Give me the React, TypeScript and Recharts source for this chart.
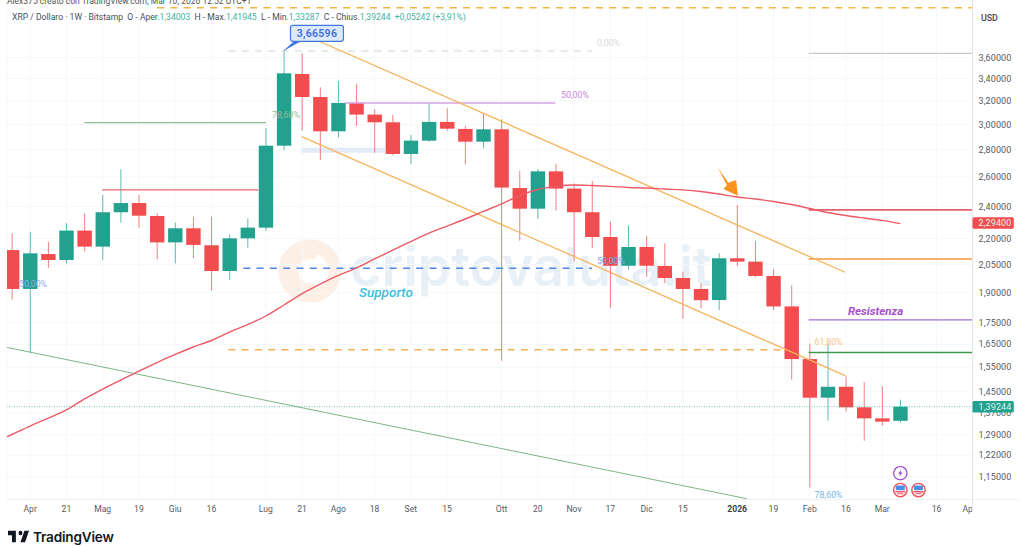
import React from 'react';
import { ComposedChart, Bar, Line, XAxis, YAxis, CartesianGrid, ReferenceLine, ReferenceArea, ReferenceDot } from 'recharts';

// Weekly XRP / USD candles, index 0 = first visible week
const opens = [2.132,1.918,2.109,2.075,2.248,2.152,2.363,2.423,2.339,2.177,2.262,2.160,2.014,2.201,2.266,2.832,3.442,3.233,2.945,3.181,3.082,3.018,2.769,2.871,3.021,2.964,2.863,2.961,2.524,2.386,2.641,2.520,2.363,2.209,2.043,2.150,2.042,1.976,1.918,1.861,2.085,2.066,1.987,1.829,1.585,1.427,1.470,1.390,1.349,1.34003];
const closes = [1.918,2.113,2.075,2.248,2.152,2.363,2.423,2.341,2.177,2.262,2.162,2.014,2.201,2.266,2.832,3.448,3.233,2.945,3.181,3.082,3.018,2.769,2.871,3.021,2.966,2.863,2.961,2.527,2.386,2.641,2.520,2.363,2.209,2.043,2.150,2.043,1.976,1.918,1.860,2.085,2.066,1.987,1.829,1.585,1.427,1.470,1.390,1.349,1.337,1.39244];
const highs = [2.231,2.241,2.179,2.293,2.356,2.477,2.656,2.477,2.356,2.297,2.335,2.335,2.225,2.324,2.969,3.66596,3.641,3.319,3.377,3.350,3.127,3.079,2.916,3.184,3.135,2.988,3.093,3.043,2.644,2.658,2.695,2.556,2.573,2.303,2.280,2.215,2.171,2.010,1.946,2.113,2.410,2.185,2.023,1.937,1.653,1.656,1.512,1.488,1.472,1.41945];
const lows = [1.863,1.614,2.032,2.056,2.123,2.075,2.297,2.266,2.079,2.056,2.085,1.909,1.964,2.146,2.246,2.799,2.950,2.724,2.897,2.988,2.779,2.759,2.695,2.863,2.950,2.690,2.812,1.578,2.187,2.322,2.373,2.066,2.144,1.821,2.023,1.983,1.948,1.769,1.821,1.810,2.042,1.980,1.810,1.499,1.118,1.340,1.375,1.269,1.322,1.33287];
// Moving average, one value per week, starting one week before the first candle
const maValues = [1.262,1.291,1.321,1.350,1.380,1.422,1.461,1.497,1.534,1.570,1.605,1.638,1.667,1.706,1.741,1.782,1.836,1.894,1.944,1.990,2.031,2.081,2.132,2.182,2.233,2.276,2.320,2.368,2.417,2.473,2.514,2.535,2.545,2.541,2.535,2.528,2.524,2.517,2.511,2.500,2.483,2.463,2.450,2.433,2.413,2.387,2.361,2.342,2.326,2.311,2.291];

const priceTicks = [3.6,3.4,3.2,3.0,2.8,2.6,2.4,2.2,2.05,1.9,1.75,1.65,1.55,1.45,1.37,1.29,1.22,1.15];
const lastPrice = 1.39244;
const maPrice = 2.294;
const timeTicks = [1,3,5,7,9,11,14,16,18,20,22,24,27,29,31,33,35,37,40,42,44,46,48,51,53];
const timeLabels = ['Apr','21','Mag','19','Giu','16','Lug','21','Ago','18','Set','15','Ott','20','Nov','17','Dic','15','2026','19','Feb','16','Mar','16','Ap'];
const highestPrice = '3,66596';

const rows = maValues.map((ma, k) => {
  const c = k - 1;
  return c < 0
    ? { i: c, ma }
    : { i: c, ma, open: opens[c], close: closes[c], high: highs[c], low: lows[c], range: [lows[c], highs[c]] };
});

const GREEN = '#22a18f';
const RED = '#f14c4e';

function Candle(props: any) {
  const { x, y, width, height, payload } = props;
  if (!payload || payload.open == null) return null;
  const top = Math.min(y, y + height);
  const h = Math.abs(height);
  const span = Math.log(payload.high) - Math.log(payload.low);
  const at = (v: number) => top + (h * (Math.log(payload.high) - Math.log(v))) / span;
  const up = payload.close >= payload.open;
  const color = up ? GREEN : RED;
  const a = at(Math.max(payload.open, payload.close));
  const b = at(Math.min(payload.open, payload.close));
  const mid = x + width / 2;
  return (
    <g>
      <line x1={mid} x2={mid} y1={top} y2={top + h} stroke={color} strokeWidth={1} strokeOpacity={0.72} />
      <rect x={x} y={a} width={width} height={Math.max(b - a, 1)} fill={color} />
    </g>
  );
}

function PriceTick(props: any) {
  const { x, y, payload } = props;
  const v = payload.value;
  const label = v.toFixed(5).replace('.', ',');
  const tag = v === lastPrice ? GREEN : v === maPrice ? RED : null;
  return (
    <g>
      {tag && <rect x={x - 12} y={y - 5.8} width={41.3} height={11.5} rx={1.5} fill={tag} />}
      <text x={x - 6} y={y} dy="0.35em" fontSize={9} fontFamily="Roboto" letterSpacing={0.12} fill={tag ? '#dff3ef' : '#555b66'}>{label}</text>
    </g>
  );
}

function TimeTick(props: any) {
  const { x, y, payload } = props;
  const idx = timeTicks.indexOf(payload.value);
  const label = timeLabels[idx];
  const year = label === '2026';
  const last = idx === timeTicks.length - 1;
  return (
    <text x={x} y={y - 4} dy="0.71em" textAnchor={last ? 'end' : 'middle'} fontSize={8.6} fontFamily="Roboto" fontWeight={year ? 700 : 400} fill={year ? '#3b404a' : '#555b66'}>{label}</text>
  );
}

const note = (text: string, color: string, size: number, extra: any = {}) => (p: any) => (
  <text x={p.cx} y={p.cy} dy="0.35em" fontSize={size} fontFamily="Roboto" fill={color} {...extra}>{text}</text>
);

function Callout(p: any) {
  const { cx, cy } = p;
  return (
    <g>
      <path d={`M${cx} ${cy} L${cx + 10} ${cy - 9} L${cx + 16} ${cy - 9}`} fill="#3f79e0" stroke="#3f79e0" strokeWidth={1} />
      <rect x={cx + 6.5} y={cy - 25.5} width={53} height={16} rx={2.5} fill="#dce9fb" stroke="#3f79e0" strokeWidth={1.2} />
      <text x={cx + 33} y={cy - 17.3} dy="0.35em" textAnchor="middle" fontSize={10.5} fontWeight={600} fontFamily="Roboto" letterSpacing={0.3} fill="#3c6bdc">{highestPrice}</text>
    </g>
  );
}

function Arrow(p: any) {
  const { cx, cy } = p;
  const pts = [[-20, -28], [-9.5, -13], [-1.8, -15.7], [0, 0], [-14.5, -6.7], [-11, -10.5]];
  return <polygon points={pts.map(([a, b]) => `${cx + a},${cy + b}`).join(' ')} fill="#f7931e" />;
}

function Bolt(p: any) {
  const { cx, cy } = p;
  return (
    <g>
      <circle cx={cx} cy={cy} r={6.7} fill="#fff" stroke="#9a3fd0" strokeWidth={1.2} />
      <path d={`M${cx + 1} ${cy - 3.6} L${cx - 2.2} ${cy + 0.6} L${cx - 0.2} ${cy + 0.6} L${cx - 1} ${cy + 3.6} L${cx + 2.2} ${cy - 0.6} L${cx + 0.2} ${cy - 0.6} Z`} fill="#9a3fd0" />
    </g>
  );
}

function Flag(p: any) {
  const { cx, cy } = p;
  return (
    <g>
      <circle cx={cx} cy={cy} r={6.7} fill="#fff" stroke="#f0525a" strokeWidth={1.4} />
      <rect x={cx - 4.5} y={cy - 4.5} width={9} height={4.6} rx={1} fill="#4a90e8" />
      <rect x={cx - 5} y={cy + 1} width={10} height={1.4} fill="#f0525a" />
      <rect x={cx - 3} y={cy + 3.2} width={6} height={1} fill="#f0525a" />
    </g>
  );
}

const abs = (o: React.CSSProperties): React.CSSProperties => ({ position: 'absolute', ...o });
const val: React.CSSProperties = { color: '#3fb3a3' };

export default function App() {
  return (
    <div style={abs({ left: 0, top: 0, width: 1024, height: 546, overflow: 'hidden', background: '#fff' })}>
      {/* watermark, behind the chart */}
      <svg width={1024} height={546} style={abs({ left: 0, top: 0 })}>
        <circle cx={310} cy={271} r={25} fill="none" stroke="#fcefe5" strokeWidth={13} />
        <path d="M316 256 a16 16 0 1 0 0 30" fill="none" stroke="#fcefe5" strokeWidth={7} />
        <text x={350} y={286} fontSize={54} fontWeight={600} fontFamily="Inter" fill="#e8f0f7">criptovaluta.it</text>
      </svg>
      <div style={abs({ left: 0, top: 0 })}>
        <ComposedChart width={1024} height={546} data={rows} margin={{ top: 0, right: 0, bottom: 0, left: 7 }}>
          <CartesianGrid stroke="#f6f7f9" strokeWidth={1} horizontalValues={priceTicks} />
          <XAxis dataKey="i" type="number" domain={[-0.276, 52.98]} allowDataOverflow ticks={timeTicks} interval={0} height={46.3} tickLine={false} axisLine={{ stroke: '#eef0f3' }} tick={<TimeTick />} tickMargin={4} />
          <YAxis orientation="right" scale="log" type="number" domain={[1.0812, 4.209]} allowDataOverflow ticks={[...priceTicks, maPrice, lastPrice]} interval={0} width={51.5} tickLine={false} axisLine={{ stroke: '#e2e5ea' }} tick={<PriceTick />} tickMargin={6} />

          <ReferenceArea x1={15.98} x2={20.57} y1={2.817} y2={2.779} fill="#dfe9f7" fillOpacity={0.9} stroke="none" />
          <ReferenceLine segment={[{ x: 8, y: 4.122 }, { x: 52.98, y: 4.122 }]} stroke="#f2b640" strokeWidth={1.5} strokeDasharray="7 6.3" />
          <ReferenceLine segment={[{ x: 11.93, y: 3.664 }, { x: 31.99, y: 3.664 }]} stroke="#d4d4d4" strokeWidth={1.2} strokeDasharray="7 6.3" />
          <ReferenceLine segment={[{ x: 11.93, y: 1.626 }, { x: 42.56, y: 1.626 }]} stroke="#f4b058" strokeWidth={1.5} strokeDasharray="7 6.3" />
          <ReferenceLine segment={[{ x: 12.76, y: 2.029 }, { x: 31.99, y: 2.029 }]} stroke="#4f86ee" strokeWidth={1.4} strokeDasharray="7 6.3" />
          <ReferenceLine segment={[{ x: -0.28, y: 1.907 }, { x: 0, y: 1.907 }]} stroke="#4f86ee" strokeWidth={1.3} />
          <ReferenceLine segment={[{ x: 3.99, y: 3.015 }, { x: 14.01, y: 3.015 }]} stroke="#8fbb94" strokeWidth={1.3} />
          <ReferenceLine segment={[{ x: 4.98, y: 2.511 }, { x: 13.59, y: 2.511 }]} stroke="#f0626c" strokeWidth={1.2} />
          <ReferenceLine segment={[{ x: 18.37, y: 3.181 }, { x: 29.97, y: 3.181 }]} stroke="#d3a5e2" strokeWidth={1.5} />
          <ReferenceLine segment={[{ x: 43.94, y: 3.641 }, { x: 52.98, y: 3.641 }]} stroke="#c9cacc" strokeWidth={1.2} />
          <ReferenceLine segment={[{ x: 43.94, y: 2.378 }, { x: 52.98, y: 2.378 }]} stroke="#e3616c" strokeWidth={1.6} />
          <ReferenceLine segment={[{ x: 43.94, y: 2.081 }, { x: 52.98, y: 2.081 }]} stroke="#f39a3c" strokeWidth={1.5} />
          <ReferenceLine segment={[{ x: 43.94, y: 1.763 }, { x: 52.98, y: 1.763 }]} stroke="#9c6fd4" strokeWidth={1.3} />
          <ReferenceLine segment={[{ x: 43.94, y: 1.614 }, { x: 52.98, y: 1.614 }]} stroke="#3f9a50" strokeWidth={1.5} />
          <ReferenceLine segment={[{ x: 16.16, y: 3.827 }, { x: 45.95, y: 2.007 }]} stroke="#f6b45c" strokeWidth={1.3} />
          <ReferenceLine segment={[{ x: 15.98, y: 2.902 }, { x: 45.96, y: 1.515 }]} stroke="#f6b45c" strokeWidth={1.3} />
          <ReferenceLine segment={[{ x: -0.276, y: 1.636 }, { x: 40.54, y: 1.084 }]} stroke="#7fb487" strokeWidth={1} />
          <ReferenceLine y={lastPrice} stroke={GREEN} strokeOpacity={0.6} strokeWidth={1} strokeDasharray="1 1.5" />

          <ReferenceDot x={14.34} y={3.081} r={1} shape={note('78,60%', '#8fbb94', 8.8)} />
          <ReferenceDot x={30.28} y={3.251} r={1} shape={note('50,00%', '#c986dc', 8.8)} />
          <ReferenceDot x={32.27} y={3.745} r={1} shape={note('0,00%', '#dcdcdc', 8.8)} />
          <ReferenceDot x={32.27} y={2.07} r={1} shape={note('50,00%', '#7ea6ea', 8.8)} />
          <ReferenceDot x={0.39} y={1.946} r={1} shape={note('50,00%', '#8fb0f0', 8.8)} />
          <ReferenceDot x={44.27} y={1.66} r={1} shape={note('61,80%', '#f6c583', 8.8)} />
          <ReferenceDot x={44.27} y={1.094} r={1} shape={note('78,60%', '#71b8e2', 8.8)} />
          <ReferenceDot x={19.14} y={1.902} r={1} shape={note('Supporto', '#3dbfdc', 13.5, { fontStyle: 'italic', fontWeight: 500 })} />
          <ReferenceDot x={46.11} y={1.806} r={1} shape={note('Resistenza', '#a650c8', 11.5, { fontStyle: 'italic', fontWeight: 700 })} />

          <Line dataKey="ma" type="monotone" stroke="#ec5a66" strokeWidth={1.4} dot={false} activeDot={false} isAnimationActive={false} />
          <Bar dataKey="range" barSize={14.4} shape={<Candle />} isAnimationActive={false} />

          <ReferenceDot x={15} y={3.66596} r={1} shape={<Callout />} />
          <ReferenceDot x={40.04} y={2.472} r={1} shape={<Arrow />} />
          <ReferenceDot x={49} y={1.162} r={1} shape={<Bolt />} />
          <ReferenceDot x={49} y={1.11} r={1} shape={<Flag />} />
          <ReferenceDot x={50} y={1.11} r={1} shape={<Flag />} />
        </ComposedChart>
      </div>

      <div style={abs({ left: 7, top: -4, fontFamily: 'Roboto', fontSize: 8.5, color: '#555', whiteSpace: 'nowrap' })}>Alex375 creato con TradingView.com, Mar 10, 2026 12:52 UTC+1</div>
      <div style={abs({ left: 12, top: 12, fontFamily: 'Roboto', fontSize: 8.6, lineHeight: '11px', color: '#4a4f58', whiteSpace: 'pre' })}>
        XRP / Dollaro · 1W · Bitstamp{'  '}O - Aper.<span style={val}>1,34003</span>{'  '}H - Max.<span style={val}>1,41945</span>{'  '}L - Min.<span style={val}>1,33287</span>{'  '}C - Chius.<span style={val}>1,39244</span>{'  '}<span style={val}>+0,05242 (+3,91%)</span>
      </div>
      <div style={abs({ left: 981, top: 12, fontFamily: 'Roboto', fontSize: 8.8, fontWeight: 500, lineHeight: '12px', color: '#40444c' })}>USD</div>

      <div style={abs({ left: 973, top: 499, width: 45, height: 1, background: '#eef0f3' })} />
      <div style={abs({ left: 972, top: 500, width: 1, height: 11, background: '#e2e5ea' })} />

      <svg width={21} height={13} viewBox="2 5 32 17" style={abs({ left: 8, top: 530 })} preserveAspectRatio="none">
        <path d="M14 6H2v6h6v9h6V6zm14 15h-7l6-15h7l-6 15zm-7-9a3 3 0 1 0 0-6 3 3 0 0 0 0 6z" fill="#131722" />
      </svg>
      <div style={abs({ left: 33, top: 528, fontFamily: 'Inter', fontSize: 13.6, fontWeight: 600, lineHeight: '18px', color: '#131722', letterSpacing: -0.2 })}>TradingView</div>
    </div>
  );
}
